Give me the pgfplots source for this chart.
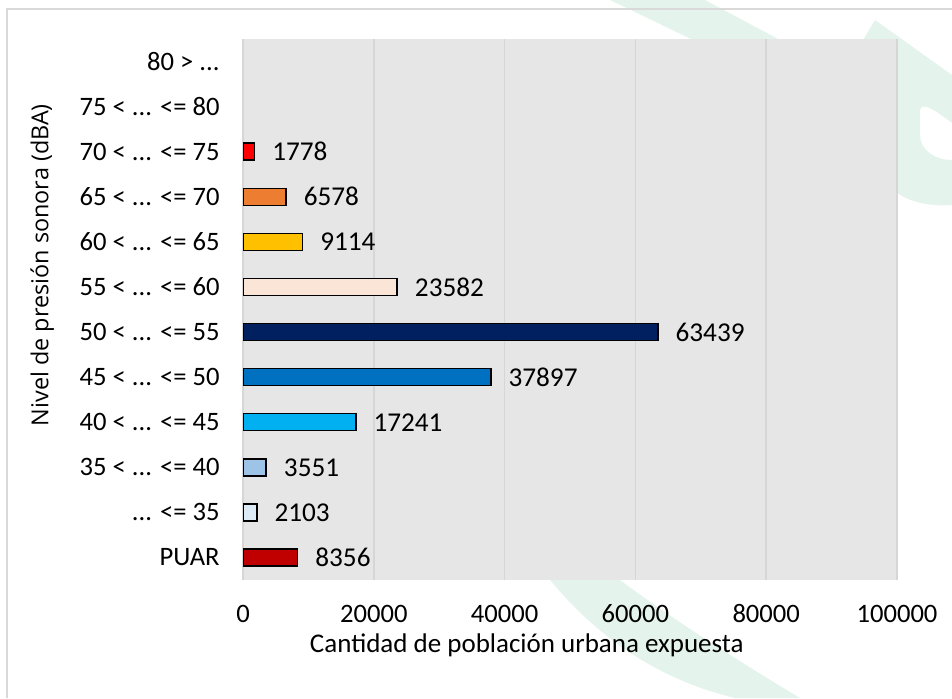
\documentclass[border=0pt]{standalone}
\usepackage{pgfplots}
\pgfplotsset{compat=1.18}
\usepackage{fontspec}
\setmainfont{Carlito}
\newfontfamily\ylfont{Open Sans}
\definecolor{plotbg}{HTML}{E6E6E6}
\definecolor{gridc}{HTML}{D6D6D6}
\definecolor{framec}{HTML}{D9D9D9}
\definecolor{wm}{HTML}{E4F4EC}
\definecolor{cPUAR}{HTML}{C00000}
\definecolor{c35}{HTML}{DDEBF7}
\definecolor{c40}{HTML}{9DC3E6}
\definecolor{c45}{HTML}{00B0F0}
\definecolor{c50}{HTML}{0070C0}
\definecolor{c55}{HTML}{002060}
\definecolor{c60}{HTML}{FBE5D6}
\definecolor{c65}{HTML}{FFC000}
\definecolor{c70}{HTML}{ED7D31}
\definecolor{c75}{HTML}{FF0000}
\newcommand{\dd}{.{}.{}.}
\begin{document}
\fontsize{13.3pt}{16pt}\selectfont
\begin{tikzpicture}
\useasboundingbox (0,0) rectangle (476pt,349pt);
\begin{scope}[x=0.5pt,y=-0.5pt,shift={(0,349pt)}]
  % watermark
  \fill[wm] (610,0) -- (705,0) -- (780,40) -- (693,40) -- cycle;
  \fill[wm] (550,580) .. controls (600,640) and (660,680) .. (735,698) -- (800,698)
     .. controls (720,650) and (660,610) .. (620,580) -- cycle;
  \fill[wm] (860,45) -- (875,20) -- (952,75) -- (952,123)
     .. controls (940,114) and (922,100) .. (920,110) -- (920,135)
     .. controls (920,150) and (935,160) .. (952,160) -- (952,205)
     .. controls (925,207) and (905,200) .. (893,190) -- (880,60) -- cycle;
  % frame
  \draw[framec, line width=0.75pt] (7,698) -- (7,9) -- (952,9);
\end{scope}
\begin{axis}[
  at={(121.5pt,59pt)}, anchor=south west,
  scale only axis, width=327pt, height=270.5pt,
  xbar, bar width=8.5pt,
  xmin=0, xmax=100000, ymin=-0.5, ymax=11.5,
  xtick={0,20000,40000,60000,80000,100000},
  xticklabels={0,20000,40000,60000,80000,100000},
  ytick={0,1,2,3,4,5,6,7,8,9,10,11},
  yticklabels={PUAR,{\dd{} <= 35},{35 < \dd{} <= 40},{40 < \dd{} <= 45},{45 < \dd{} <= 50},{50 < \dd{} <= 55},{55 < \dd{} <= 60},{60 < \dd{} <= 65},{65 < \dd{} <= 70},{70 < \dd{} <= 75},{75 < \dd{} <= 80},{80 > \dd}},
  scaled x ticks=false,
  /pgf/number format/fixed,
  /pgf/number format/precision=0,
  /pgf/number format/1000 sep={},
  /pgf/number format/assume math mode=true,
  xmajorgrids, grid style={gridc, line width=0.85pt},
  axis line style={draw=none},
  major tick length=0pt,
  axis background/.style={fill=plotbg},
  yticklabel style={inner sep=0pt, xshift=-11.5pt},
  xticklabel style={inner sep=0pt, anchor=base, yshift=-21pt},
  xlabel={Cantidad de población urbana expuesta},
  ylabel={Nivel de presión sonora (dBA)},
  xlabel style={at={(axis description cs:0.434,-0.120)}, anchor=center, font=\fontsize{13.5pt}{16pt}\selectfont},
  ylabel style={at={(axis description cs:-0.307,0.582)}, anchor=center, font=\ylfont\fontsize{11.7pt}{14pt}\selectfont},
  nodes near coords,
  nodes near coords align={horizontal},
  nodes near coords style={inner sep=0pt, xshift=8.5pt, text=black, font=\fontsize{13.6pt}{16pt}\selectfont},
  every axis plot/.append style={draw=black, line width=0.75pt, bar shift=0pt},
]
\addplot[fill=cPUAR] coordinates {(8356,0)};
\addplot[fill=c35] coordinates {(2103,1)};
\addplot[fill=c40] coordinates {(3551,2)};
\addplot[fill=c45] coordinates {(17241,3)};
\addplot[fill=c50] coordinates {(37897,4)};
\addplot[fill=c55] coordinates {(63439,5)};
\addplot[fill=c60] coordinates {(23582,6)};
\addplot[fill=c65] coordinates {(9114,7)};
\addplot[fill=c70] coordinates {(6578,8)};
\addplot[fill=c75] coordinates {(1778,9)};
\end{axis}
\end{tikzpicture}
\end{document}
